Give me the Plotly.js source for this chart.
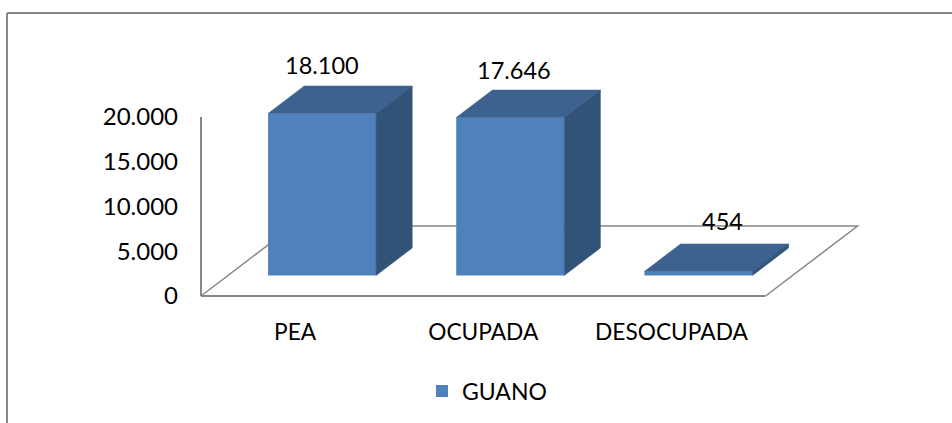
<!DOCTYPE html>
<html>
<head>
<meta charset="utf-8">
<script src="https://cdn.plot.ly/plotly-3.0.1.min.js"></script>
<style>html,body{margin:0;padding:0;background:#fff}#c{width:952px;height:423px}</style>
</head>
<body>
<div id="c"></div>
<script>
var categories = ['PEA', 'OCUPADA', 'DESOCUPADA'];
var values = [18100, 17646, 454];
var seriesName = 'GUANO';
var yTicks = [0, 5000, 10000, 15000, 20000];
var yTickLabels = ['0', '5.000', '10.000', '15.000', '20.000'];
var labelShiftX = [0, 4, 24];
var labelShiftY = [48, 48, 50];

// oblique depth projection, in axis units
var DEPTH_X = 0.489, DEPTH_Y = 7821, FRONT = 0.293, BACK = 0.686, BAR_W = 0.574;
// the ranges reach past the last category and tick so the 3-D depth stays inside the plot area
var AXIS_X_END = 2.5, AXIS_Y_END = 20000;
var XR = [-0.5, 3.055], YR = [0, 28603];
var W = 952, H = 423, M = {l: 201, r: 82, t: 40, b: 127};
var plotW = W - M.l - M.r, plotH = H - M.t - M.b;

function proj(x, v, d) { return [x + d * DEPTH_X, v + d * DEPTH_Y]; }
function toPaper(p) { return [(p[0] - XR[0]) / (XR[1] - XR[0]), (p[1] - YR[0]) / (YR[1] - YR[0])]; }
function pxX(px) { return (px - M.l) / plotW; }
function pxY(py) { return (H - M.b - py) / plotH; }
function fmt(v) { return String(v).replace(/\B(?=(\d{3})+$)/g, '.'); }

var topX = [], topY = [], sideX = [], sideY = [];
function addPoly(xs, ys, pts) {
  pts.forEach(function (p) { xs.push(p[0]); ys.push(p[1]); });
  xs.push(pts[0][0]); ys.push(pts[0][1]);
  xs.push(null); ys.push(null);
}
values.forEach(function (v, i) {
  var l = i - BAR_W / 2, r = i + BAR_W / 2;
  addPoly(topX, topY, [proj(l, v, FRONT), proj(r, v, FRONT), proj(r, v, BACK), proj(l, v, BACK)]);
  addPoly(sideX, sideY, [proj(r, 0, FRONT), proj(r, v, FRONT), proj(r, v, BACK), proj(r, 0, BACK)]);
});

var front = {
  type: 'bar', name: seriesName, hoverinfo: 'skip',
  x: categories.map(function (c, i) { return i + FRONT * DEPTH_X; }),
  y: values,
  base: values.map(function () { return FRONT * DEPTH_Y; }),
  width: BAR_W,
  marker: {color: '#4F81BD', line: {width: 0}}
};
function face(xs, ys, col) {
  return {type: 'scatter', mode: 'lines', x: xs, y: ys, fill: 'toself', fillcolor: col,
    line: {width: 0.5, color: col}, showlegend: false, hoverinfo: 'skip'};
}

function pathOf(pts) {
  return 'M ' + pts.map(toPaper).map(function (p) { return p[0] + ' ' + p[1]; }).join(' L ');
}
var floorPath = pathOf([proj(XR[0], 0, 0), proj(XR[0], 0, 1), proj(AXIS_X_END, 0, 1), proj(AXIS_X_END, 0, 0)]);
var xLinePath = pathOf([[XR[0], 0], [AXIS_X_END, 0]]);
var yLinePath = pathOf([[XR[0], 0], [XR[0], AXIS_Y_END]]);
var GRAY = '#868686';

var annotations = values.map(function (v, i) {
  var p = proj(i, v, FRONT);
  return {x: p[0], y: p[1], xref: 'x', yref: 'y', text: fmt(v), showarrow: false,
    xanchor: 'center', yanchor: 'middle', xshift: labelShiftX[i], yshift: labelShiftY[i],
    font: {family: 'Lato', size: 23.5, color: '#000'}};
});

function shapeLine(path, width) {
  return {type: 'path', xref: 'paper', yref: 'paper', path: path, layer: 'below', line: {color: GRAY, width: width}};
}

var layout = {
  width: W, height: H, paper_bgcolor: '#fff', plot_bgcolor: 'rgba(0,0,0,0)',
  margin: {l: M.l, r: M.r, t: M.t, b: M.b, pad: 0, autoexpand: false},
  font: {family: 'Lato', size: 24, color: '#000'},
  xaxis: {range: XR, tickmode: 'array', tickvals: [0, 1, 2], ticktext: categories,
    showgrid: false, zeroline: false, showline: false,
    ticks: '', tickangle: 0, ticklabelstandoff: 20, tickfont: {family: 'Lato', size: 22.7, color: '#000'}, fixedrange: true},
  yaxis: {range: YR, tickmode: 'array', tickvals: yTicks, ticktext: yTickLabels,
    showgrid: false, zeroline: false, showline: false,
    ticks: '', ticklabelstandoff: 22, tickfont: {family: 'Lato', size: 24, color: '#000'}, fixedrange: true},
  showlegend: true,
  legend: {x: pxX(422), y: pxY(391), xanchor: 'left', yanchor: 'middle', orientation: 'h',
    font: {family: 'Lato', size: 23, color: '#000'}, bgcolor: 'rgba(0,0,0,0)', itemwidth: 30},
  annotations: annotations,
  shapes: [
    shapeLine(floorPath, 1.5),
    shapeLine(xLinePath, 2),
    shapeLine(yLinePath, 2),
    {type: 'line', xref: 'paper', yref: 'paper', x0: pxX(7), x1: pxX(952), y0: pxY(13), y1: pxY(13), layer: 'below', line: {color: GRAY, width: 2}},
    {type: 'line', xref: 'paper', yref: 'paper', x0: pxX(7), x1: pxX(7), y0: pxY(13), y1: pxY(423), layer: 'below', line: {color: GRAY, width: 2}}
  ]
};

Plotly.newPlot('c', [front, face(topX, topY, '#3D6290'), face(sideX, sideY, '#325378')], layout, {displayModeBar: false, staticPlot: true});
</script>
</body>
</html>
